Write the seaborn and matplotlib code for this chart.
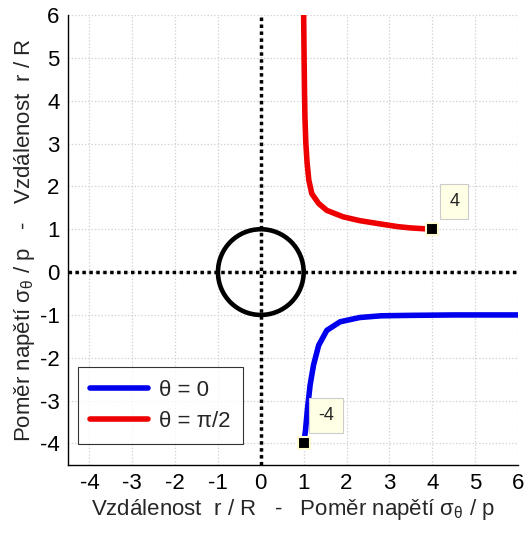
import seaborn as sns
import matplotlib.pyplot as plt
from matplotlib.patches import Circle

# values
ticks = [-4, -3, -2, -1, 0, 1, 2, 3, 4, 5, 6]
red_x = [1.0, 1.01, 1.02, 1.03, 1.05, 1.08, 1.12, 1.19, 1.35, 1.54, 1.92, 2.31, 2.81, 3.2, 3.5, 4.0]
red_y = [6.0, 5.0, 4.2, 3.6, 3.02, 2.55, 2.15, 1.83, 1.6, 1.44, 1.29, 1.2, 1.12, 1.06, 1.03, 1.0]
blue_x = [1.0, 1.04, 1.09, 1.15, 1.23, 1.35, 1.54, 1.85, 2.31, 2.81, 3.5, 4.5, 6.0]
blue_y = [-4.0, -3.72, -3.18, -2.64, -2.17, -1.71, -1.36, -1.16, -1.06, -1.02, -1.01, -1.0, -1.0]
hole_radius = 1.0
tip_x = [4, 1]
tip_y = [1, -4]
tip_text = ['4', '-4']

sns.set_style('white')
plt.rcParams['font.family'] = ['Liberation Sans', 'DejaVu Sans']
plt.rcParams['mathtext.fontset'] = 'custom'
plt.rcParams['mathtext.rm'] = 'Liberation Sans'
plt.rcParams['mathtext.it'] = 'Liberation Sans'
plt.rcParams['axes.unicode_minus'] = False

fig = plt.figure(figsize=(5.25, 5.35), dpi=100)
ax = fig.add_axes([0.1295, 0.131, 0.857, 0.841])

ax.grid(True, color='#cfcfcf', linestyle=':', linewidth=0.9)
ax.axhline(0, color='black', linestyle=(0, (1, 1)), linewidth=2.5, zorder=2)
ax.axvline(0, color='black', linestyle=(0, (1, 1)), linewidth=2.5, zorder=2)
ax.add_patch(Circle((0, 0), hole_radius, fill=False, edgecolor='black', linewidth=3.3, zorder=3))

sns.lineplot(x=blue_x, y=blue_y, color='#0000ee', linewidth=4, estimator=None, sort=False,
             label='θ = 0', ax=ax, zorder=4)
sns.lineplot(x=red_x, y=red_y, color='#ee0000', linewidth=4, estimator=None, sort=False,
             label='θ = π/2', ax=ax, zorder=4)
for line in ax.get_lines():
    line.set_solid_joinstyle('round')

ax.scatter(tip_x, tip_y, marker='s', s=80, color='black', edgecolor='#fffbd0', linewidth=1.5, zorder=6, clip_on=False)
for x, y, t in zip(tip_x, tip_y, tip_text):
    ax.annotate(t, xy=(x, y), xytext=(16, 20), textcoords='offset points', ha='center', va='center',
                fontsize=13, bbox=dict(boxstyle='square,pad=0.5', facecolor='#ffffe6', edgecolor='#cccccc', linewidth=0.8),
                zorder=7)

ax.set_xlim(-4.5, 6)
ax.set_ylim(-4.5, 6)
ax.set_xticks(ticks)
ax.set_yticks(ticks)
ax.tick_params(direction='in', length=4, width=0.8, labelsize=16, colors='black', pad=6)
for side in ['top', 'right']:
    ax.spines[side].set_visible(False)
for side in ['left', 'bottom']:
    ax.spines[side].set_color('black')
    ax.spines[side].set_linewidth(1.0)

ax.set_xlabel('Vzdálenost  r / R   -   Poměr napětí σ$_{\\mathrm{θ}}$ / p', fontsize=16, labelpad=2)
ax.set_ylabel('Poměr napětí σ$_{\\mathrm{θ}}$ / p   -   Vzdálenost  r / R', fontsize=16, labelpad=2)

leg = ax.legend(loc='lower left', bbox_to_anchor=(0.022, 0.047), borderaxespad=0, fontsize=16,
                frameon=True, fancybox=False, handlelength=2.6, handletextpad=0.5,
                borderpad=0.55, labelspacing=0.45)
leg.get_frame().set_edgecolor('black')
leg.get_frame().set_linewidth(0.8)

fig.savefig('out.png', dpi=100)
